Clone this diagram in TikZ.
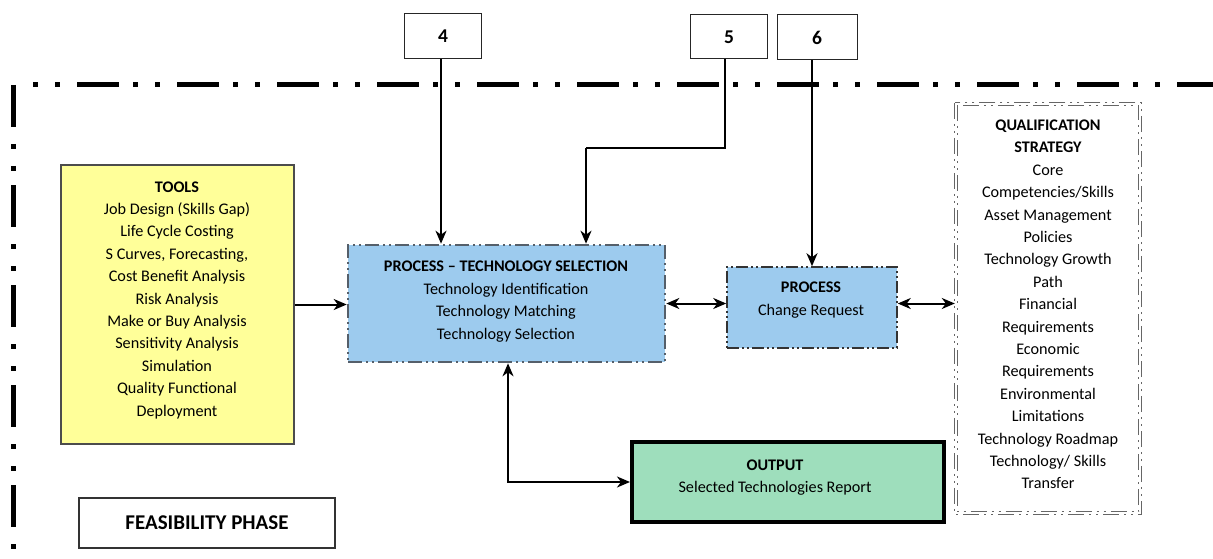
\documentclass[tikz,border=0pt]{standalone}
\usepackage{fontspec}
\setmainfont{Carlito}
\usetikzlibrary{arrows.meta}
\definecolor{tyellow}{HTML}{FFFF99}
\definecolor{tblue}{HTML}{9DCBEE}
\definecolor{tgreen}{HTML}{9EDEBC}
\definecolor{bgray}{HTML}{555F6A}
\tikzset{
  txt/.style={font=\fontsize{16.2}{22.4}\selectfont, align=center, inner sep=0pt},
  numbox/.style={draw=black!85, line width=1pt, fill=white, inner sep=0pt, font=\fontsize{19.5}{22}\selectfont\bfseries},
  tooltbox/.style={draw=black!70, line width=1.6pt, fill=tyellow, inner sep=0pt},
  procbox/.style={draw=bgray, line width=2.6pt, fill=tblue, inner sep=0pt, dash pattern=on 14pt off 4pt on 2pt off 4pt on 2pt off 4pt},
  crbox/.style={draw=black!80, line width=1.5pt, fill=tblue, inner sep=0pt, dash pattern=on 12pt off 3pt on 2pt off 3pt on 2pt off 3pt},
  qsbox/.style={draw=none, inner sep=0pt},
  qsline/.style={draw=black!60, line width=0.9pt, dash pattern=on 16pt off 5pt on 2pt off 5pt on 2pt off 5pt},
  outbox/.style={draw=black, line width=4pt, fill=tgreen, inner sep=0pt},
  phasebox/.style={draw=black!80, line width=1.2pt, fill=white, inner sep=0pt, font=\fontsize{21}{24}\selectfont\bfseries},
  outer/.style={line width=5pt, black},
  conn/.style={line width=2pt, -{Stealth[length=13pt,width=11pt,inset=4pt]}},
  biconn/.style={line width=2pt, {Stealth[length=13pt,width=11pt,inset=4pt]}-{Stealth[length=13pt,width=11pt,inset=4pt]}},
}
\begin{document}
\begin{tikzpicture}[x=1pt,y=-1pt]
\useasboundingbox (0,0) rectangle (1213,559);
% outer phase border
\draw[outer, dash pattern=on 5pt off 17pt on 5pt off 17pt on 42pt off 14pt] (33,85) -- (1213,85);
\draw[outer, dash pattern=on 42pt off 17pt on 5pt off 17pt on 5pt off 14pt] (13,85) -- (13,559);
% boxes
\node[numbox, minimum width=77pt, minimum height=45pt] (b4) at (443,36.5) {4};
\node[numbox, minimum width=77pt, minimum height=44pt] (b5) at (729,37) {5};
\node[numbox, minimum width=80pt, minimum height=45pt] (b6) at (817,37.5) {6};
\node[tooltbox, minimum width=233pt, minimum height=279pt] (tools) at (177.5,304.5) {};
\node[txt] (toolstxt) at (177,300) {\textbf{TOOLS}\\Job Design (Skills Gap)\\Life Cycle Costing\\S Curves, Forecasting,\\Cost Benefit Analysis\\Risk Analysis\\Make or Buy Analysis\\Sensitivity Analysis\\Simulation\\Quality Functional\\Deployment};
\node[procbox, minimum width=317pt, minimum height=117pt] (proc) at (506.5,303.5) {};
\node[txt] (proctxt) at (506,301.5) {\textbf{PROCESS -- TECHNOLOGY SELECTION}\\Technology Identification\\Technology Matching\\Technology Selection};
\node[crbox, minimum width=170pt, minimum height=81pt] (cr) at (812,307.5) {};
\node[txt] (crtxt) at (811,300) {\textbf{PROCESS}\\Change Request};
\node[qsbox, minimum width=186pt, minimum height=411pt] (qs) at (1048,308.5) {};
\draw[qsline] (qs.north west) rectangle (qs.south east);
\draw[qsline] ([shift={(2.4,2.4)}]qs.north west) rectangle ([shift={(-2.4,-2.4)}]qs.south east);
\node[txt] (qstxt) at (1048,304.5) {\textbf{QUALIFICATION}\\\textbf{STRATEGY}\\Core\\Competencies/Skills\\Asset Management\\Policies\\Technology Growth\\Path\\Financial\\Requirements\\Economic\\Requirements\\Environmental\\Limitations\\Technology Roadmap\\Technology/ Skills\\Transfer};
\node[outbox, minimum width=312pt, minimum height=80pt] (out) at (788,482) {};
\node[txt] (outtxt) at (775,477.5) {\textbf{OUTPUT}\\Selected Technologies Report};
\node[phasebox, minimum width=256pt, minimum height=50pt] (phase) at (207,523) {FEASIBILITY PHASE};
% connectors
\coordinate (s4) at (441,59);
\coordinate (s5) at (725,59);
\coordinate (t5) at (586,148);
\draw[conn] (s4) -- (s4 |- proc.north);
\draw[line width=2pt] (s5) -- (s5 |- t5) -- (t5);
\draw[conn] (t5) -- (t5 |- proc.north);
\draw[conn] (cr.north |- b6.south) -- (cr.north);
\draw[conn] (tools.east) -- (tools.east -| proc.west);
\draw[biconn] (proc.east) -- (proc.east -| cr.west);
\draw[biconn] ([yshift=4pt]cr.east) -- ([yshift=4pt]cr.east -| qs.west);
\draw[biconn] ([xshift=1.5pt]proc.south) |- (out.west);
\end{tikzpicture}
\end{document}
